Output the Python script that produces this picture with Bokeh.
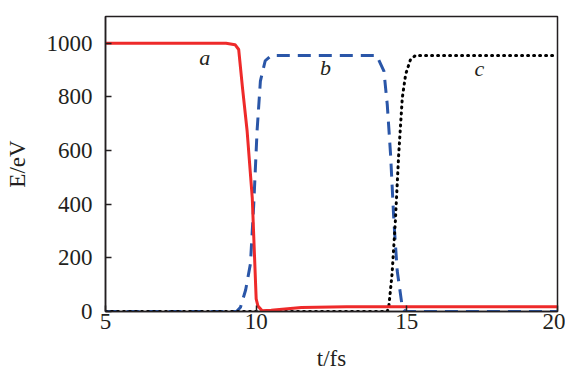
from bokeh.plotting import figure
from bokeh.models import Label, FixedTicker, Range1d
from bokeh.embed import file_html
from bokeh.resources import INLINE

# Data
t_a = [5, 9.0, 9.3, 9.42, 9.55, 9.70, 9.87, 10.0, 10.06, 10.2, 10.5, 11.5, 13.0, 15, 20]
e_a = [1000, 1000, 995, 977, 830, 673, 425, 47, 20, 3, 5, 15, 18, 18, 18]

t_b = [5, 9.35, 9.48, 9.65, 9.81, 9.92, 10.03, 10.14, 10.3, 10.5, 14.0, 14.24, 14.35, 14.46, 14.57, 14.68, 14.85, 14.95, 20]
e_b = [0, 0, 16, 80, 178, 400, 673, 859, 935, 955, 955, 896, 772, 586, 338, 152, 16, 0, 0]

t_c = [5, 14.35, 14.40, 14.51, 14.62, 14.73, 14.85, 14.96, 15.12, 15.29, 20]
e_c = [0, 0, 16, 140, 338, 586, 797, 884, 939, 955, 955]

x_ticks = [5, 10, 15, 20]
y_ticks = [0, 200, 400, 600, 800, 1000]

curve_labels = ["a", "b", "c"]
curve_label_x = [8.29, 12.30, 17.41]
curve_label_y = [948, 911, 907]

x_title = "t/fs"
y_title = "E/eV"

FONT = "Liberation Serif"
TXT = "#231f20"

p = figure(width=565, height=374, output_backend="svg", toolbar_location=None,
           x_range=Range1d(5, 20), y_range=Range1d(0, 1100))
p.min_border_left = 105
p.min_border_right = 8
p.min_border_top = 16
p.min_border_bottom = 63
p.grid.visible = False
p.background_fill_color = "white"
p.border_fill_color = "white"
p.outline_line_color = "#231f20"
p.outline_line_width = 1.5

p.line(t_b, e_b, line_color="#2a56a8", line_width=3, line_dash="13 8")
p.line(t_c, e_c, line_color="black", line_width=3, line_dash="1 5", line_cap="round")
p.line(t_a, e_a, line_color="#ee2a2a", line_width=3)

for ax in (p.xaxis[0], p.yaxis[0]):
    ax.axis_line_color = "#231f20"
    ax.axis_line_width = 1.5
    ax.major_tick_in = 6
    ax.major_tick_out = 0
    ax.major_tick_line_color = "#231f20"
    ax.major_tick_line_width = 1.5
    ax.minor_tick_line_color = None
    ax.major_label_text_font = FONT
    ax.major_label_text_font_size = "23px"
    ax.major_label_text_color = TXT
    ax.axis_label_text_font = FONT
    ax.axis_label_text_font_size = "23px"
    ax.axis_label_text_font_style = "normal"
    ax.axis_label_text_color = TXT

p.xaxis.ticker = FixedTicker(ticks=x_ticks)
p.yaxis.ticker = FixedTicker(ticks=y_ticks)
p.xaxis.major_label_standoff = 2
p.yaxis.major_label_standoff = 13
p.xaxis.axis_label = x_title
p.yaxis.axis_label = y_title
p.xaxis.axis_label_standoff = 14
p.yaxis.axis_label_standoff = 14

for txt, x, y in zip(curve_labels, curve_label_x, curve_label_y):
    p.add_layout(Label(x=x, y=y, text=txt, text_font=FONT, text_font_style="italic",
                       text_font_size="22px", text_color=TXT,
                       text_align="center", text_baseline="middle"))

open("out.html", "w").write(file_html(p, INLINE))
